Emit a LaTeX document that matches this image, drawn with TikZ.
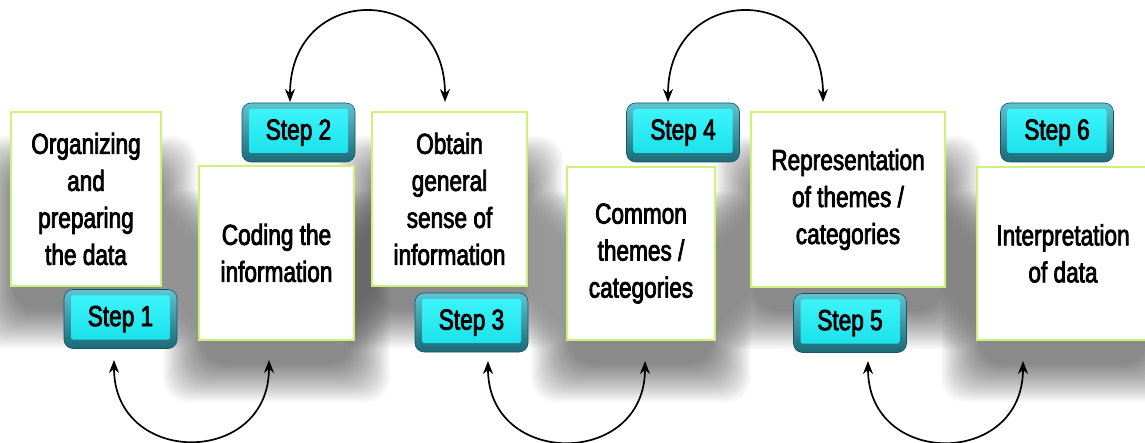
\documentclass[tikz,border=0pt]{standalone}
\usepackage{fontspec}
\setmainfont{Liberation Sans}[FakeStretch=0.78,FakeBold=2.6]
\usetikzlibrary{arrows.meta}
\definecolor{boxgreen}{HTML}{CCF27A}
\definecolor{rimtop}{HTML}{5CC4D2}
\definecolor{rimbot}{HTML}{1C6A78}
\definecolor{facetop}{HTML}{40F6FC}
\definecolor{facebot}{HTML}{16DEE8}
\tikzset{
  textbox/.style={draw=boxgreen, line width=2.5pt, fill=white, inner sep=0pt,
    align=center, font=\fontsize{29}{37}\selectfont},
  stepbtn/.style={rounded corners=9pt, top color=rimtop, bottom color=rimbot,
    draw=rimbot!80!black, line width=0.6pt, inner sep=0pt,
    minimum width=113pt, minimum height=59pt,
    font=\fontsize{29}{35}\selectfont,
    path picture={
      \shade[top color=facetop, bottom color=facebot, rounded corners=2pt]
        ([shift={(7pt,-6pt)}]path picture bounding box.north west) rectangle
        ([shift={(-7pt,9pt)}]path picture bounding box.south east);
    }},
  arc/.style={line width=1.7pt, {Stealth[length=13pt,width=10pt]}-{Stealth[length=13pt,width=10pt]}}
}
\newcommand\blurshadow[4]{%
  \foreach \k in {0,...,19}{%
    \fill[black, fill opacity=0.026, rounded corners=24pt]
      ({#1-36+2*\k},{#2+24+2*\k}) rectangle ({#3+36-2*\k},{#4+62-2*\k});
  }}
\begin{document}
\begin{tikzpicture}[x=1pt,y=-1pt]
\useasboundingbox (0,0) rectangle (1145,443);
\fill[white] (0,0) rectangle (1145,443);
% shadows
\blurshadow{11}{112}{161}{286}
\blurshadow{199}{166}{354}{340}
\blurshadow{372}{112}{527}{286}
\blurshadow{567}{167}{715}{340}
\blurshadow{751}{112}{945}{287}
\blurshadow{977}{167}{1149}{340}
% text boxes
\node[textbox, minimum width=150pt, minimum height=174pt] (b1) at (86,199) {Organizing\\and\\preparing\\the data};
\node[textbox, minimum width=155pt, minimum height=174pt] (b2) at (276.5,253) {Coding the\\information};
\node[textbox, minimum width=155pt, minimum height=174pt] (b3) at (449.5,199) {Obtain\\general\\sense of\\information};
\node[textbox, minimum width=148pt, minimum height=173pt] (b4) at (641,253.5) {Common\\themes /\\categories};
\node[textbox, minimum width=194pt, minimum height=175pt] (b5) at (848,199.5) {Representation\\of themes /\\categories};
\node[textbox, minimum width=172pt, minimum height=173pt] (b6) at (1063,253.5) {Interpretation\\of data};
% step buttons
\node[stepbtn] (s1) at (120.5,319) {\raisebox{1pt}{Step 1}};
\node[stepbtn] (s2) at (298.5,132.5) {\raisebox{1pt}{Step 2}};
\node[stepbtn] (s3) at (471.5,322.5) {\raisebox{1pt}{Step 3}};
\node[stepbtn] (s4) at (683,132.5) {\raisebox{1pt}{Step 4}};
\node[stepbtn] (s5) at (850,323) {\raisebox{1pt}{Step 5}};
\node[stepbtn] (s6) at (1057,132.5) {\raisebox{1pt}{Step 6}};
% arrow end points
\coordinate (t1a) at (290,102);
\coordinate (t1b) at (445,102);
\coordinate (t2a) at (668,102);
\coordinate (t2b) at (823,102);
\coordinate (u1a) at (114,360);
\coordinate (u1b) at (269,360);
\coordinate (u2a) at (488,361);
\coordinate (u2b) at (645,361);
\coordinate (u3a) at (868,361);
\coordinate (u3b) at (1023,361);
% arcs
\draw[arc] (t1a) .. controls +(0,-120) and +(0,-120) .. (t1b);
\draw[arc] (t2a) .. controls +(0,-120) and +(0,-120) .. (t2b);
\draw[arc] (u1a) .. controls +(0,107) and +(0,107) .. (u1b);
\draw[arc] (u2a) .. controls +(0,107) and +(0,107) .. (u2b);
\draw[arc] (u3a) .. controls +(0,107) and +(0,107) .. (u3b);
\end{tikzpicture}
\end{document}
